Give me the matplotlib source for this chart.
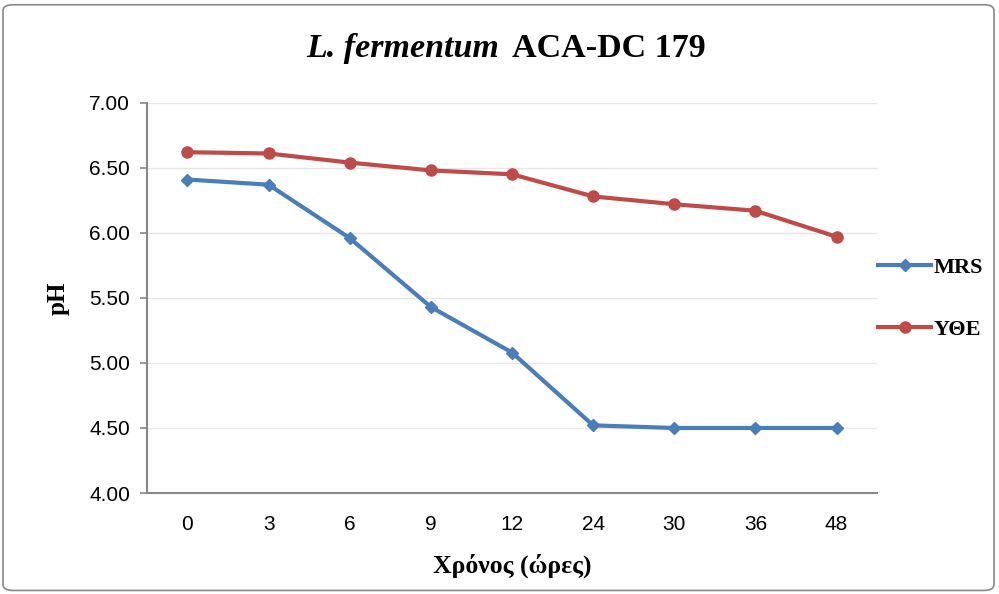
import matplotlib
matplotlib.use("Agg")
import matplotlib.pyplot as plt
from matplotlib.patches import FancyBboxPatch

categories = ["0", "3", "6", "9", "12", "24", "30", "36", "48"]
mrs = [6.41, 6.37, 5.96, 5.43, 5.08, 4.52, 4.50, 4.50, 4.50]
ythe = [6.62, 6.61, 6.54, 6.48, 6.45, 6.28, 6.22, 6.17, 5.97]
yticks = [4.0, 4.5, 5.0, 5.5, 6.0, 6.5, 7.0]

fig = plt.figure(figsize=(9.99, 5.94), dpi=100)
ax = fig.add_axes([0.147, 0.170, 0.731, 0.657])

x = list(range(len(categories)))
ax.plot(x, mrs, color="#4A7EBB", lw=3, marker="D", ms=6, label="MRS")
ax.plot(x, ythe, color="#BE4B48", lw=3, marker="o", ms=8, label="ΥΘΕ")

ax.set_xlim(-0.5, len(categories) - 0.5)
ax.set_ylim(4.0, 7.0)
ax.set_yticks(yticks)
ax.set_yticklabels([f"{v:.2f}" for v in yticks], fontfamily="Liberation Sans", fontsize=15)
ax.set_xticks(x)
ax.set_xticklabels(categories, fontfamily="Liberation Sans", fontsize=15)
ax.tick_params(axis="x", length=0, pad=16)
ax.tick_params(axis="y", length=5, color="#888888", width=1.2, pad=7, direction="out")
ax.grid(axis="y", color="#E6E6E6", lw=1)
ax.set_axisbelow(True)
for s in ["top", "right"]:
    ax.spines[s].set_visible(False)
for s in ["left", "bottom"]:
    ax.spines[s].set_color("#888888")
    ax.spines[s].set_linewidth(1.5)

ax.set_ylabel("pH", fontfamily="Liberation Serif", fontweight="bold", fontsize=18, labelpad=14)
ax.set_xlabel("Χρόνος (ώρες)", fontfamily="Liberation Serif", fontweight="bold", fontsize=18.5, labelpad=14)

fig.text(0.500, 0.918, "L. fermentum", ha="right", va="center", fontfamily="Liberation Serif",
         fontweight="bold", fontstyle="italic", fontsize=24.5)
fig.text(0.513, 0.918, "ACA-DC 179", ha="left", va="center", fontfamily="Liberation Serif",
         fontweight="bold", fontsize=24.5)

leg = fig.legend(loc="center left", bbox_to_anchor=(0.859, 0.497), frameon=False,
                 prop={"family": "Liberation Serif", "weight": "bold", "size": 16},
                 handlelength=2.4, handletextpad=0.1, labelspacing=1.85)

fig.patches.append(FancyBboxPatch((0.003, 0.006), 0.992, 0.986, boxstyle="round,pad=0,rounding_size=0.01",
                                  transform=fig.transFigure, fill=False, edgecolor="#888888", lw=1.2))

fig.savefig("out.png", dpi=100)
